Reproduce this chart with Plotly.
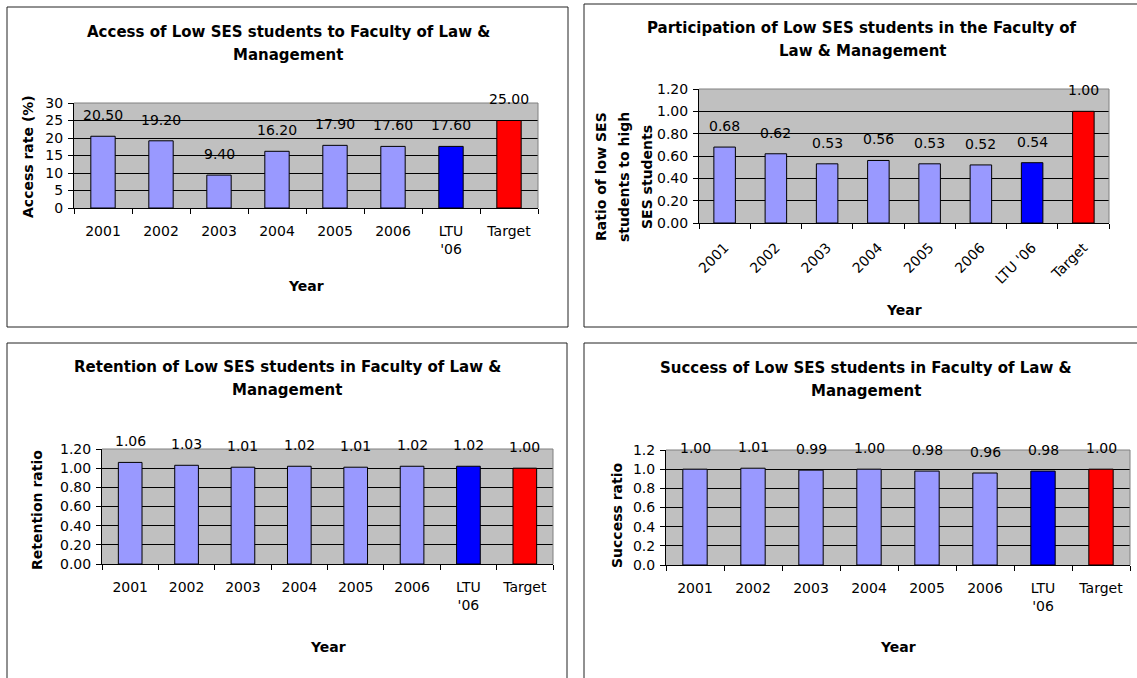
import plotly.graph_objects as go

W, H = 1137, 678

categories = ["2001", "2002", "2003", "2004", "2005", "2006", "LTU '06", "Target"]
wrapped_labels = ["2001", "2002", "2003", "2004", "2005", "2006", "LTU<br>'06", "Target"]

access_rate = [20.50, 19.20, 9.40, 16.20, 17.90, 17.60, 17.60, 25.00]
participation_ratio = [0.68, 0.62, 0.53, 0.56, 0.53, 0.52, 0.54, 1.00]
retention_ratio = [1.06, 1.03, 1.01, 1.02, 1.01, 1.02, 1.02, 1.00]
success_ratio = [1.00, 1.01, 0.99, 1.00, 0.98, 0.96, 0.98, 1.00]

bar_colors = ["#9999FF"] * 6 + ["#0000FF", "#FF0000"]
FONT = "DejaVu Sans"
LINE_GAP = 23  # Excel spaces wrapped title lines wider than plotly does


def px(x):
    return x / W


def py(y):
    return 1 - y / H


# one dict per chart: pixel boxes are (left, top, right, bottom)
panels = [
    dict(values=access_rate, labels=wrapped_labels, angle=0,
         title=["Access of Low SES students to Faculty of Law &", "Management"],
         title_pos=(288, 32), ytitle=["Access rate (%)"], ytitle_pos=(28, 157),
         xtitle_pos=(306, 286), frame=(7, 7, 568, 327), plot=(74, 103, 538, 208),
         yrange=[0, 30], dtick=5, fmt=""),
    dict(values=participation_ratio, labels=categories, angle=-45,
         title=["Participation of Low SES students in the Faculty of", "Law & Management"],
         title_pos=(862, 28),
         ytitle=["Ratio of low SES", "students to high", "SES students"],
         ytitle_pos=(601, 177), xtitle_pos=(904, 310), frame=(584, 4, 1140, 327),
         plot=(699, 89, 1109, 223), yrange=[0, 1.2], dtick=0.2, fmt=".2f"),
    dict(values=retention_ratio, labels=wrapped_labels, angle=0,
         title=["Retention of Low SES students in Faculty of Law &", "Management"],
         title_pos=(287, 367), ytitle=["Retention ratio"], ytitle_pos=(37, 510),
         xtitle_pos=(328, 647), frame=(7, 343, 567, 685), plot=(102, 449, 553, 564),
         yrange=[0, 1.2], dtick=0.2, fmt=".2f"),
    dict(values=success_ratio, labels=wrapped_labels, angle=0,
         title=["Success of Low SES students in Faculty of Law &", "Management"],
         title_pos=(866, 368), ytitle=["Success ratio"], ytitle_pos=(617, 515),
         xtitle_pos=(898, 647), frame=(584, 343, 1140, 685), plot=(666, 450, 1130, 565),
         yrange=[0, 1.2], dtick=0.2, fmt=".1f"),
]

fig = go.Figure()
annotations = []
shapes = []
layout_axes = {}


def paper_text(x, y, text, size=14, angle=0):
    return dict(x=px(x), y=py(y), xref="paper", yref="paper", text=text,
                xanchor="center", yanchor="middle", showarrow=False, textangle=angle,
                font=dict(family=FONT, size=size, color="black"))


for i, p in enumerate(panels, start=1):
    sfx = "" if i == 1 else str(i)
    xa, ya = "x" + sfx, "y" + sfx

    fig.add_trace(go.Bar(
        x=categories, y=p["values"], xaxis=xa, yaxis=ya,
        marker=dict(color=bar_colors, line=dict(color="black", width=1)),
        hovertemplate="%{x}: %{y:.2f}<extra></extra>",
    ))

    l, t, r, b = p["plot"]
    layout_axes["xaxis" + sfx] = dict(
        domain=[px(l), px(r)], anchor=ya, type="category",
        categoryorder="array", categoryarray=categories,
        tickvals=categories, ticktext=p["labels"], tickangle=p["angle"],
        ticks="outside", tickson="boundaries", ticklen=5, tickcolor="black",
        showline=True, linecolor="black", linewidth=1, showgrid=False,
        range=[-0.5, len(categories) - 0.5],
        ticklabelstandoff=10, automargin=False,
        tickfont=dict(family=FONT, size=14, color="black"),
    )
    layout_axes["yaxis" + sfx] = dict(
        domain=[py(b), py(t)], anchor=xa, range=p["yrange"], dtick=p["dtick"],
        tickformat=p["fmt"], ticks="outside", ticklen=5, tickcolor="black",
        showline=True, linecolor="black", linewidth=1,
        showgrid=True, gridcolor="black", gridwidth=1, zeroline=False,
        ticklabelstandoff=2, automargin=False,
        tickfont=dict(family=FONT, size=14, color="black"),
    )

    # value labels above the bars (x given as category index: names look numeric)
    for k, v in enumerate(p["values"]):
        annotations.append(dict(
            x=k, y=v, xref=xa, yref=ya, text=f"{v:.2f}", showarrow=False,
            xanchor="center", yanchor="middle", yshift=21,
            font=dict(family=FONT, size=14, color="black"),
        ))

    # chart title, one annotation per line
    tx, ty = p["title_pos"]
    for j, line in enumerate(p["title"]):
        annotations.append(paper_text(tx, ty + j * LINE_GAP, f"<b>{line}</b>", size=15))

    # y title (rotated, lines stacked left to right) and x title
    yx, yy = p["ytitle_pos"]
    for j, line in enumerate(p["ytitle"]):
        annotations.append(paper_text(yx + j * LINE_GAP, yy, f"<b>{line}</b>", angle=-90))
    annotations.append(paper_text(*p["xtitle_pos"], "<b>Year</b>"))

    # grey border on top/right of the plot area, black frame around the chart
    shapes.append(dict(type="line", xref=xa + " domain", yref=ya + " domain",
                       x0=0, x1=1, y0=1, y1=1, line=dict(color="#808080", width=1)))
    shapes.append(dict(type="line", xref=xa + " domain", yref=ya + " domain",
                       x0=1, x1=1, y0=0, y1=1, line=dict(color="#808080", width=1)))
    fl, ft, fr, fb = p["frame"]
    shapes.append(dict(type="rect", xref="paper", yref="paper",
                       x0=px(fl), x1=px(fr), y0=py(fb), y1=py(ft),
                       line=dict(color="#222222", width=1)))

fig.update_layout(
    width=W, height=H,
    margin=dict(l=0, r=0, t=0, b=0),
    paper_bgcolor="white",
    plot_bgcolor="#C0C0C0",
    bargap=0.58,
    showlegend=False,
    annotations=annotations,
    shapes=shapes,
    **layout_axes,
)

# drop the page's default body margin so the figure sits at the window's corner
fig.write_html("out.html", config={"displayModeBar": False},
               post_script="document.body.style.margin='0';")
